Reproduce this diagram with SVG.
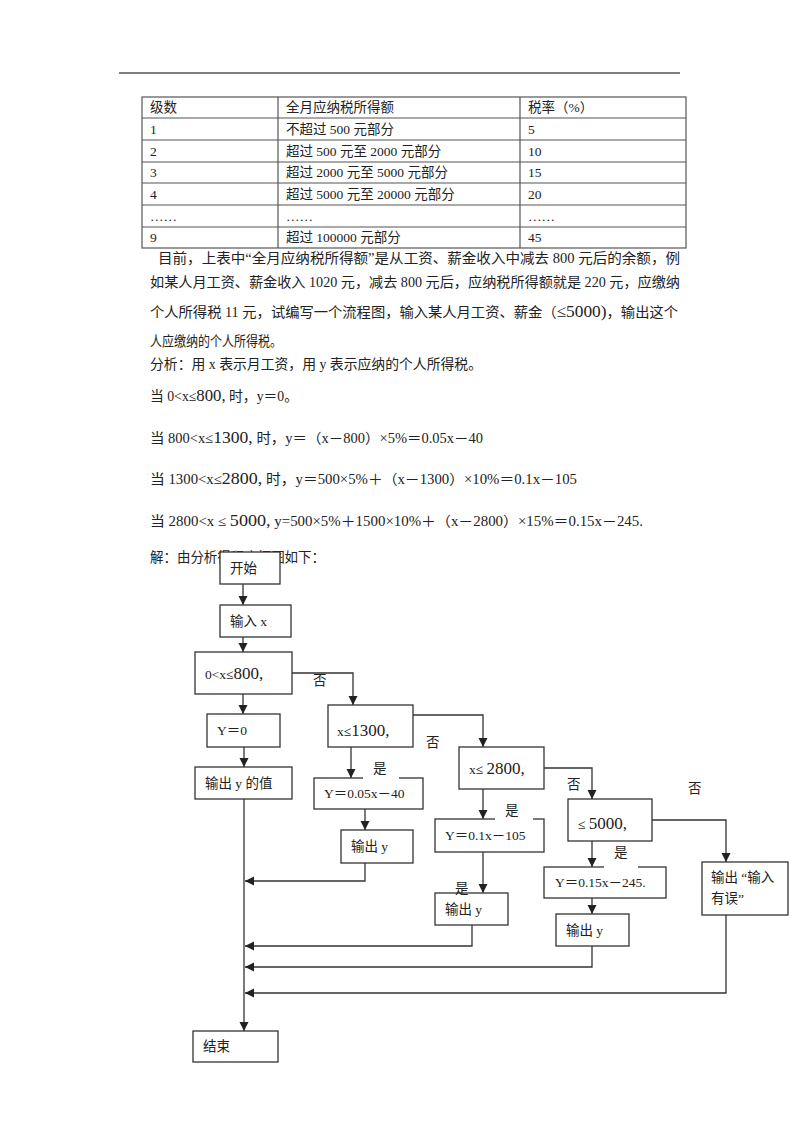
<svg xmlns="http://www.w3.org/2000/svg" width="800" height="1132" viewBox="0 0 800 1132">
<style>
text{font-family:"Liberation Serif","Noto Sans CJK SC",serif;fill:#222}
.t{font-size:13.5px}
.p{font-size:14px}
.f{font-size:13.5px}
.big{font-size:17px}
.box{fill:#fff;stroke:#333;stroke-width:1.3}
.tbl{fill:none;stroke:#555;stroke-width:1.2}
.c{fill:none;stroke:#333;stroke-width:1.3}
.gap{fill:#fff;stroke:none}
</style>
<defs>
<marker id="ah" viewBox="0 0 10 10" refX="10" refY="5" markerWidth="9" markerHeight="10" markerUnits="userSpaceOnUse" orient="auto">
<path d="M0,0 L10,5 L0,10 z" fill="#222"/>
</marker>
</defs>
<rect width="800" height="1132" fill="#fff"/>
<line x1="119" y1="73" x2="680" y2="73" stroke="#555" stroke-width="1.5"/>
<g id="table">
<rect class="tbl" x="142" y="97" width="544" height="151"/>
<path class="tbl" d="M278,97V248M520,97V248M142,118H686M142,140H686M142,162H686M142,183H686M142,205H686M142,227H686"/>
<g class="t">
<text x="150" y="112">级数</text><text x="286" y="112">全月应纳税所得额</text><text x="528" y="112">税率（%）</text>
<text x="150" y="134">1</text><text x="286" y="134">不超过 500 元部分</text><text x="528" y="134">5</text>
<text x="150" y="156">2</text><text x="286" y="156">超过 500 元至 2000 元部分</text><text x="528" y="156">10</text>
<text x="150" y="177">3</text><text x="286" y="177">超过 2000 元至 5000 元部分</text><text x="528" y="177">15</text>
<text x="150" y="199">4</text><text x="286" y="199">超过 5000 元至 20000 元部分</text><text x="528" y="199">20</text>
<text x="150" y="221">……</text><text x="286" y="221">……</text><text x="528" y="221">……</text>
<text x="150" y="242">9</text><text x="286" y="242">超过 100000 元部分</text><text x="528" y="242">45</text>
</g>
</g>
<g id="text" class="p">
<text x="158" y="263" textLength="522" lengthAdjust="spacingAndGlyphs">目前，上表中“全月应纳税所得额”是从工资、薪金收入中减去 800 元后的余额，例</text>
<text x="150" y="287" textLength="530" lengthAdjust="spacingAndGlyphs">如某人月工资、薪金收入 1020 元，减去 800 元后，应纳税所得额就是 220 元，应缴纳</text>
<text x="150" y="317" textLength="528" lengthAdjust="spacingAndGlyphs">个人所得税 11 元，试编写一个流程图，输入某人月工资、薪金（<tspan class="big">≤5000)</tspan>，输出这个</text>
<text x="150" y="346" textLength="132" lengthAdjust="spacingAndGlyphs">人应缴纳的个人所得税。</text>
<text x="150" y="369" textLength="332" lengthAdjust="spacingAndGlyphs">分析：用 x 表示月工资，用 y 表示应纳的个人所得税。</text>
<text x="150" y="401" textLength="148" lengthAdjust="spacingAndGlyphs">当 0&lt;x≤<tspan class="big">800,</tspan> 时，y＝0。</text>
<text x="150" y="443" textLength="333" lengthAdjust="spacingAndGlyphs">当 800&lt;x≤<tspan class="big">1300,</tspan> 时，y＝（x－800）×5%＝0.05x－40</text>
<text x="150" y="484" textLength="427" lengthAdjust="spacingAndGlyphs">当 1300&lt;x≤<tspan class="big">2800,</tspan> 时，y＝500×5%＋（x－1300）×10%＝0.1x－105</text>
<text x="150" y="526" textLength="493" lengthAdjust="spacingAndGlyphs">当 2800&lt;x ≤ <tspan class="big">5000,</tspan> y=500×5%＋1500×10%＋（x－2800）×15%＝0.15x－245.</text>
<text x="150" y="562" textLength="175" lengthAdjust="spacingAndGlyphs">解：由分析得程序框图如下：</text>
</g>
<g id="connectors">
<path class="c" marker-end="url(#ah)" d="M243,584V605"/>
<path class="c" marker-end="url(#ah)" d="M243,637V652"/>
<path class="c" marker-end="url(#ah)" d="M243,694V714"/>
<path class="c" marker-end="url(#ah)" d="M292,673H353V705"/>
<path class="c" marker-end="url(#ah)" d="M244,747V767"/>
<path class="c" marker-end="url(#ah)" d="M351,747V778"/>
<path class="c" marker-end="url(#ah)" d="M413,715H483V747"/>
<path class="c" marker-end="url(#ah)" d="M365,809V830"/>
<path class="c" marker-end="url(#ah)" d="M483,789V819"/>
<path class="c" marker-end="url(#ah)" d="M544,768H592V799"/>
<path class="c" marker-end="url(#ah)" d="M483,852V893"/>
<path class="c" marker-end="url(#ah)" d="M592,841V867"/>
<path class="c" marker-end="url(#ah)" d="M652,820H726V862"/>
<path class="c" marker-end="url(#ah)" d="M592,898V914"/>
<path class="c" marker-end="url(#ah)" d="M365,863V881H245"/>
<path class="c" marker-end="url(#ah)" d="M472,925V946H245"/>
<path class="c" marker-end="url(#ah)" d="M592,946V967H245"/>
<path class="c" marker-end="url(#ah)" d="M726,915V993H245"/>
<path class="c" marker-end="url(#ah)" d="M244,799V1031"/>
</g>
<g id="start"><rect class="box" x="220" y="552" width="60" height="32"/><text class="f" x="230" y="573">开始</text></g>
<g id="input"><rect class="box" x="220" y="605" width="71" height="32"/><text class="f" x="230" y="626">输入 x</text></g>
<g id="cond800"><rect class="box" x="195" y="652" width="97" height="42"/><text class="f" x="205" y="679">0&lt;x≤<tspan class="big">800,</tspan></text></g>
<g id="y0"><rect class="box" x="207" y="714" width="73" height="33"/><text class="f" x="217" y="735">Y＝0</text></g>
<g id="out0"><rect class="box" x="195" y="767" width="97" height="32"/><text class="f" x="205" y="788">输出 y 的值</text></g>
<g id="cond1300"><rect class="box" x="328" y="705" width="85" height="42"/><text class="f" x="337" y="736">x≤<tspan class="big">1300,</tspan></text></g>
<g id="y1"><rect class="box" x="314" y="778" width="109" height="31"/><text class="f" x="324" y="798">Y＝0.05x－40</text></g>
<g id="out1"><rect class="box" x="341" y="830" width="72" height="33"/><text class="f" x="351" y="851">输出 y</text></g>
<g id="cond2800"><rect class="box" x="459" y="747" width="85" height="42"/><text class="f" x="469" y="774">x≤ <tspan class="big">2800,</tspan></text></g>
<g id="y2"><rect class="box" x="435" y="819" width="109" height="33"/><text class="f" x="445" y="840">Y＝0.1x－105</text></g>
<g id="out2"><rect class="box" x="435" y="893" width="73" height="32"/><text class="f" x="445" y="914">输出 y</text></g>
<g id="cond5000"><rect class="box" x="568" y="799" width="84" height="42"/><text class="f" x="578" y="829">≤ <tspan class="big">5000,</tspan></text></g>
<g id="y3"><rect class="box" x="544" y="867" width="122" height="31"/><text class="f" x="555" y="887">Y＝0.15x－245.</text></g>
<g id="out3"><rect class="box" x="556" y="914" width="73" height="32"/><text class="f" x="566" y="935">输出 y</text></g>
<g id="err"><rect class="box" x="702" y="862" width="86" height="53"/><text class="f" x="711" y="882">输出 “输入</text><text class="f" x="711" y="903">有误”</text></g>
<g id="end"><rect class="box" x="193" y="1031" width="85" height="31"/><text class="f" x="203" y="1051">结束</text></g>
<g id="labels" class="f">
<text x="313" y="685">否</text>
<text x="426" y="747">否</text>
<text x="567" y="789">否</text>
<text x="688" y="793">否</text>
<rect class="gap" x="363" y="759" width="36" height="21"/><text x="373" y="773">是</text>
<rect class="gap" x="495" y="801" width="38" height="20"/><text x="505" y="815">是</text>
<rect class="gap" x="604" y="843" width="34" height="25"/><text x="614" y="857">是</text>
<text x="455" y="893">是</text>
</g>
</svg>
